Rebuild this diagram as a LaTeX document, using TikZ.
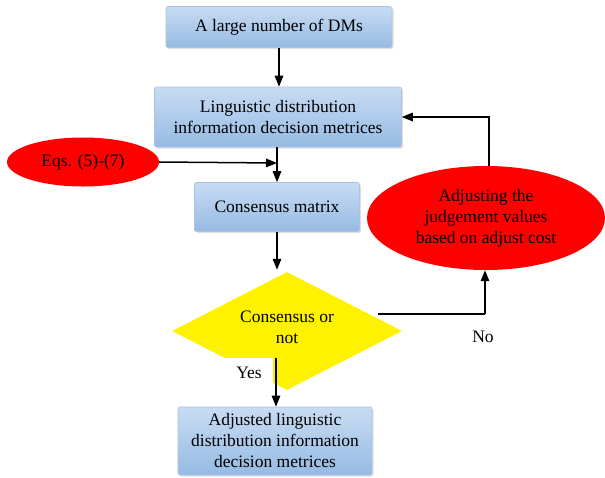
\documentclass[tikz,border=0pt]{standalone}
\usepackage{fontspec}
\setmainfont{Liberation Serif}
\usetikzlibrary{shapes.geometric,arrows.meta,shadows,calc}
\definecolor{boxtop}{RGB}{200,220,243}
\definecolor{boxbot}{RGB}{150,186,227}
\definecolor{boxline}{RGB}{170,195,225}
\begin{document}
\begin{tikzpicture}[x=1pt,y=-1pt,
  every node/.style={font=\fontsize{17.5}{21}\selectfont, align=center, inner sep=0pt},
  bluebox/.style={rectangle, rounded corners=2pt, draw=boxline, line width=0.6pt,
     top color=boxtop, bottom color=boxbot,
     drop shadow={opacity=0.25, shadow xshift=1.5pt, shadow yshift=-1.5pt}},
  redell/.style={ellipse, fill=red, draw=none},
  yeldia/.style={diamond, fill=yellow, draw=none},
  conn/.style={line width=1.5pt, draw=black},
  arr/.style={conn, -{Triangle[length=11pt,width=8.5pt]}}
]
\useasboundingbox (0,0) rectangle (605,477);

\node[bluebox, minimum width=226pt, minimum height=41pt] (b1) at (279,27) {A large number of DMs};
\node[bluebox, minimum width=247pt, minimum height=60pt] (b2) at (278,117) {Linguistic distribution\\information decision metrices};
\node[bluebox, minimum width=165pt, minimum height=49pt] (b3) at (277,207) {Consensus matrix};
\node[yeldia, minimum width=230pt, minimum height=118pt, aspect=1.95] (dia) at (287,331) {};
\node (diat) at (287,327) {\fontsize{17.5}{20}\selectfont Consensus or\\not};
\node[bluebox, minimum width=194pt, minimum height=68pt] (b4) at (275,441) {\fontsize{17.5}{20}\selectfont Adjusted linguistic\\distribution information\\decision metrices};
\node[redell, minimum width=152pt, minimum height=49pt] (eqs) at (83,162) {Eqs. (5)-(7)};
\node[redell, minimum width=238pt, minimum height=104pt] (adj) at (486,218) {\fontsize{17.5}{20}\selectfont Adjusting the\\judgement values\\based on adjust cost};

\fill[white] (170,358) rectangle (273,404);
\node (yes) at (249,373) {Yes};
\node (no) at (483,337) {No};

\coordinate (j1) at (277,163);
\coordinate (ys) at (276,358);
\coordinate (ns) at (378,314);
\coordinate (ne) at (485,314);

\draw[arr] (b1.south) -- (b1.south |- b2.north);
\draw[arr] (b2.south -| j1) -- (b3.north -| j1);
\draw[arr] (eqs.east) -- (j1);
\draw[arr] (b3.south) -- ++(0,38);
\draw[arr] (ys) -- (b4.north -| ys);
\draw[conn] (ns) -- (ne);
\draw[arr] (ne) -- (adj.south -| ne);
\draw[arr] (adj.north -| 489,0) |- (b2.east);
\end{tikzpicture}
\end{document}
